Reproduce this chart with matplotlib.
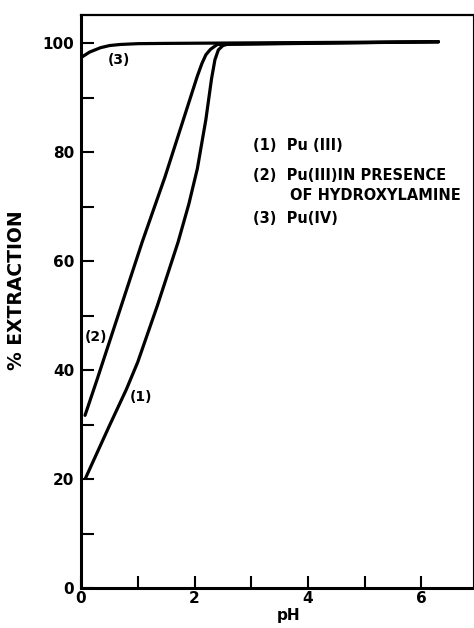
import matplotlib
matplotlib.use("Agg")
import matplotlib.pyplot as plt
import numpy as np
from matplotlib.ticker import MultipleLocator, FixedLocator

# values
ph_1 = [0.08, 0.5, 0.8, 1.0, 1.35, 1.71, 1.9, 2.05, 2.2, 2.3, 2.36, 2.42, 2.5, 2.6, 6.3]
ext_1 = [20.2, 29.8, 36.5, 41.5, 52.0, 63.5, 70.5, 77.0, 86.0, 93.5, 97.0, 98.8, 99.6, 99.9, 100.3]

ph_2 = [0.07, 0.28, 1.08, 1.48, 2.05, 2.13, 2.2, 2.28, 2.4, 6.3]
ext_2 = [31.7, 38.2, 63.6, 75.5, 94.0, 96.3, 97.9, 98.9, 99.8, 100.3]

ph_3 = [0.0, 0.15, 0.34, 0.5, 0.69, 1.0, 1.5, 6.3]
ext_3 = [97.4, 98.4, 99.2, 99.6, 99.8, 99.95, 100.0, 100.3]

curve_labels = ["(1)", "(2)", "(3)"]
label_pos = [(1.06, 35.0), (0.26, 46.0), (0.67, 97.0)]
legend_lines = ["(1)  Pu (III)", "(2)  Pu(III)IN PRESENCE", "OF HYDROXYLAMINE", "(3)  Pu(IV)"]

plt.rcParams['font.family'] = ['DejaVu Sans']
plt.rcParams['font.weight'] = 'bold'

fig = plt.figure(figsize=(4.74, 6.28), dpi=100)
ax = fig.add_axes([0.171, 0.0637, 0.827, 0.9123])

lw = 2.3
for x, y in [(ph_1, ext_1), (ph_2, ext_2), (ph_3, ext_3)]:
    ax.plot(x, y, color="black", lw=lw, solid_capstyle="round", solid_joinstyle="round")

for txt, (x, y) in zip(curve_labels, label_pos):
    ax.text(x, y, txt, fontsize=10, fontweight="bold", ha="center", va="center")

# legend block written as text
fs = 10.5
ax.text(3.03, 81.3, legend_lines[0], fontsize=fs, fontweight="bold", va="center")
ax.text(3.03, 75.8, legend_lines[1], fontsize=fs, fontweight="bold", va="center")
ax.text(3.69, 72.1, legend_lines[2], fontsize=fs, fontweight="bold", va="center")
ax.text(3.03, 67.9, legend_lines[3], fontsize=fs, fontweight="bold", va="center")

ax.set_xlim(0, 6.91)
ax.set_ylim(0, 105.2)
ax.xaxis.set_major_locator(FixedLocator([0, 2, 4, 6]))
ax.xaxis.set_minor_locator(MultipleLocator(1))
ax.yaxis.set_major_locator(MultipleLocator(20))
ax.yaxis.set_minor_locator(MultipleLocator(10))
ax.tick_params(which="both", direction="in", length=9, width=1.5, top=False, right=False)
ax.tick_params(axis="x", labelsize=11, pad=2)
ax.tick_params(axis="y", labelsize=11, pad=5)
for lab in ax.get_xticklabels() + ax.get_yticklabels():
    lab.set_fontweight("bold")

for s in ["left", "bottom"]:
    ax.spines[s].set_linewidth(2.2)
ax.spines["top"].set_linewidth(1.6)
ax.spines["right"].set_linewidth(0.8)

ax.set_ylabel("% EXTRACTION", fontsize=13.5, fontweight="bold")
ax.yaxis.set_label_coords(-0.14, 0.52)
ax.set_xlabel("pH", fontsize=11, fontweight="bold", labelpad=0)
ax.xaxis.set_label_coords(0.53, -0.035)

fig.savefig("out.png", dpi=100)
